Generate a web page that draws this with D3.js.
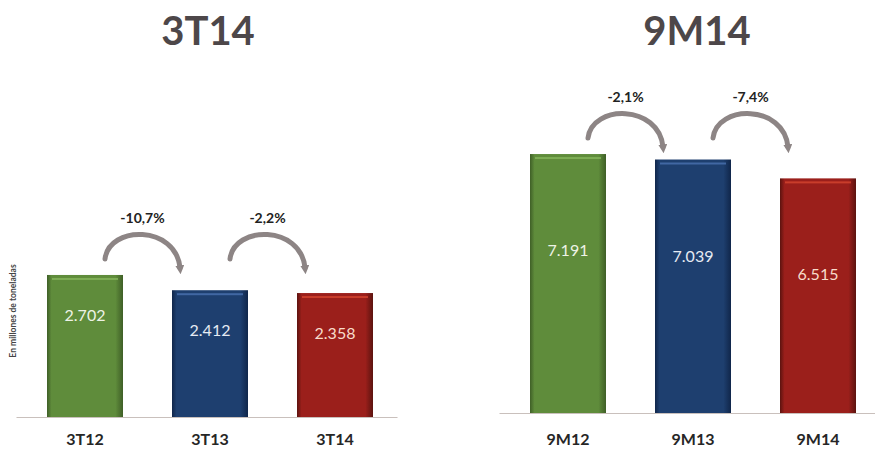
<!DOCTYPE html>
<html>
<head>
<meta charset="utf-8">
<script src="https://cdn.jsdelivr.net/npm/d3@7"></script>
<style>
  body { margin: 0; background: #fff; }
  svg { display: block; font-family: Lato, "Open Sans", sans-serif; }
</style>
</head>
<body>
<div id="chart"></div>
<script>
// data
var titles = ["3T14", "9M14"];
var yLabel = "En millones de toneladas";
var quarterCats = ["3T12", "3T13", "3T14"];
var quarterValues = [2702, 2412, 2358];
var quarterChanges = ["-10,7%", "-2,2%"];
var ninemCats = ["9M12", "9M13", "9M14"];
var ninemValues = [7191, 7039, 6515];
var ninemChanges = ["-2,1%", "-7,4%"];

var barColors = [
  { mid: "#5f8c3b", edge: "#3f5f27", hi: "#86b55c" },
  { mid: "#1e3f6f", edge: "#10264a", hi: "#4a72b0" },
  { mid: "#9b1f1b", edge: "#5c130f", hi: "#d4452f" }
];
var labelColors = ["#eef3e6", "#e6ebf3", "#f8dccb"];

var fmt = d3.formatLocale({ decimal: ",", thousands: ".", grouping: [3], currency: ["", ""] }).format(",d");

var width = 875, height = 450;

var svg = d3.select("#chart").append("svg")
    .attr("width", width)
    .attr("height", height);

var defs = svg.append("defs");
barColors.forEach(function(c, i) {
  var g = defs.append("linearGradient").attr("id", "bar" + i)
      .attr("x1", "0").attr("x2", "1").attr("y1", "0").attr("y2", "0");
  g.append("stop").attr("offset", "0").attr("stop-color", c.edge);
  g.append("stop").attr("offset", "0.06").attr("stop-color", c.mid);
  g.append("stop").attr("offset", "0.9").attr("stop-color", c.mid);
  g.append("stop").attr("offset", "1").attr("stop-color", c.edge);
});

defs.append("marker")
    .attr("id", "head")
    .attr("viewBox", "0 0 10 10")
    .attr("refX", 3).attr("refY", 5)
    .attr("markerWidth", 1.8).attr("markerHeight", 1.8)
    .attr("orient", "auto")
  .append("path")
    .attr("d", "M0,0 L10,5 L0,10 z")
    .attr("fill", "#8d8585");

function panel(opts) {
  var x = d3.scaleBand()
      .domain(opts.cats)
      .range(opts.xRange)
      .paddingInner(0.392)
      .paddingOuter(0.196);

  var y = d3.scaleLinear()
      .domain([0, opts.yMax])
      .range([opts.base, opts.top]);

  var g = svg.append("g");

  // title
  g.append("text")
      .attr("x", opts.titleX)
      .attr("y", 45)
      .attr("text-anchor", "middle")
      .attr("font-size", 40)
      .attr("font-weight", "bold")
      .attr("fill", "#4d4749")
      .text(opts.title);

  // baseline
  g.append("line")
      .attr("x1", opts.xRange[0] - 6).attr("x2", opts.xRange[1])
      .attr("y1", opts.base + 0.5).attr("y2", opts.base + 0.5)
      .attr("stroke", "#c9c0bc")
      .attr("stroke-width", 1.2);

  var bars = g.selectAll(".bar")
      .data(opts.values)
    .enter().append("g")
      .attr("class", "bar");

  bars.append("rect")
      .attr("x", function(d, i) { return x(opts.cats[i]); })
      .attr("y", function(d) { return y(d); })
      .attr("width", x.bandwidth())
      .attr("height", function(d) { return y(0) - y(d); })
      .attr("fill", function(d, i) { return "url(#bar" + i + ")"; });

  // light stripe near the top of each bar
  bars.append("rect")
      .attr("x", function(d, i) { return x(opts.cats[i]) + 5; })
      .attr("y", function(d) { return y(d) + 3; })
      .attr("width", x.bandwidth() - 10)
      .attr("height", 2)
      .attr("fill", function(d, i) { return barColors[i].hi; })
      .attr("opacity", 0.8);

  bars.append("text")
      .attr("x", function(d, i) { return x(opts.cats[i]) + x.bandwidth() / 2; })
      .attr("y", function(d) { return y(d) + opts.labelOffset; })
      .attr("text-anchor", "middle")
      .attr("font-size", 16)
      .attr("fill", function(d, i) { return labelColors[i]; })
      .text(function(d) { return fmt(d); });

  // category labels
  g.selectAll(".cat")
      .data(opts.cats)
    .enter().append("text")
      .attr("class", "cat")
      .attr("x", function(d) { return x(d) + x.bandwidth() / 2; })
      .attr("y", Math.min(opts.base + 32, 445))
      .attr("text-anchor", "middle")
      .attr("font-size", 16)
      .attr("font-weight", "bold")
      .attr("fill", "#262626")
      .text(function(d) { return d; });

  // curved arrows with the change between bars
  var startY = y(d3.max(opts.values)) - 16;
  opts.changes.forEach(function(ch, i) {
    var cx0 = x(opts.cats[i]) + x.bandwidth() / 2,
        cx1 = x(opts.cats[i + 1]) + x.bandwidth() / 2;
    var sx = cx0 + 20, ex = cx1 - 30;
    var sy = startY, ey = startY + 9;
    g.append("path")
        .attr("d", "M" + sx + "," + sy + " C" + (sx + 4) + "," + (sy - 34) + " " + (ex - 4) + "," + (sy - 34) + " " + ex + "," + ey)
        .attr("fill", "none")
        .attr("stroke", "#8d8585")
        .attr("stroke-width", 5)
        .attr("stroke-linecap", "round")
        .attr("marker-end", "url(#head)");
    g.append("text")
        .attr("x", (sx + ex) / 2)
        .attr("y", sy - 36)
        .attr("text-anchor", "middle")
        .attr("font-size", 14)
        .attr("font-weight", "bold")
        .attr("fill", "#222")
        .text(ch);
  });
}

panel({ title: titles[0], titleX: 208, cats: quarterCats, values: quarterValues, changes: quarterChanges,
        xRange: [22.5, 397.5], base: 417, top: 259.3, yMax: 3000, labelOffset: 46 });
panel({ title: titles[1], titleX: 697, cats: ninemCats, values: ninemValues, changes: ninemChanges,
        xRange: [505.5, 880.5], base: 413, top: 124.9, yMax: 8000, labelOffset: 102 });

// y axis title on the left panel
svg.append("text")
    .attr("transform", "translate(16,311) rotate(-90)")
    .attr("text-anchor", "middle")
    .attr("font-size", 8.5)
    .attr("font-weight", "bold")
    .attr("fill", "#444")
    .text(yLabel);
</script>
</body>
</html>
